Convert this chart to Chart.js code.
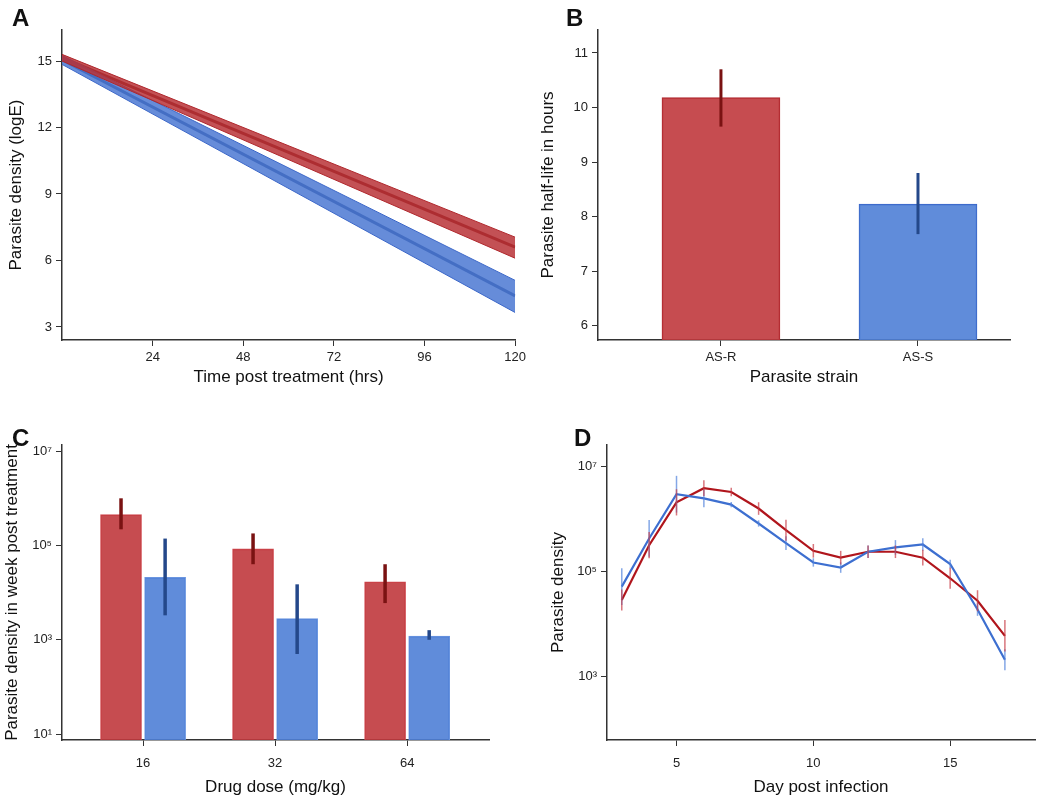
<!DOCTYPE html>
<html><head><meta charset="utf-8">
<script src="https://cdn.jsdelivr.net/npm/chart.js@4/dist/chart.umd.min.js"></script>
<style>
body{margin:0;background:#fff;width:1042px;height:800px;position:relative;overflow:hidden;font-family:"Liberation Sans",Arial,sans-serif}
.p{position:absolute}
.lab{position:absolute;font-weight:bold;font-size:24px;color:#111}
</style></head><body>
<div class="p" style="left:0;top:0;width:530px;height:390px"><canvas id="cA"></canvas></div>
<div class="p" style="left:530px;top:0;width:512px;height:390px"><canvas id="cB"></canvas></div>
<div class="p" style="left:0;top:390px;width:520px;height:410px"><canvas id="cC"></canvas></div>
<div class="p" style="left:520px;top:390px;width:522px;height:410px"><canvas id="cD"></canvas></div>
<div class="lab" style="left:12px;top:4px">A</div>
<div class="lab" style="left:566px;top:4px">B</div>
<div class="lab" style="left:12px;top:424px">C</div>
<div class="lab" style="left:574px;top:424px">D</div>
<script>
// ---- Panel A data
const timeHrs=[0,120];
const redMean=[15.15,6.6], redLo=[15.0,6.1], redHi=[15.3,7.05];
const blueMean=[15.05,4.4], blueLo=[14.85,3.65], blueHi=[15.25,5.1];
const ticksA_x=[24,48,72,96,120], ticksA_y=[3,6,9,12,15];
// ---- Panel B data
const strains=['AS-R','AS-S'];
const halfLife=[10.18,8.23];
const halfLifeLo=[9.65,7.68], halfLifeHi=[10.7,8.8];
// ---- Panel C data
const doses=['16','32','64'];
const densR=[4.5e5,8.5e4,1.7e4], densRLo=[2.2e5,4e4,6e3], densRHi=[1.0e6,1.8e5,4e4];
const densS=[2.1e4,2.8e3,1.2e3], densSLo=[3.3e3,5e2,1.0e3], densSHi=[1.4e5,1.5e4,1.6e3];
// ---- Panel D data
const days=[3,4,5,6,7,8,9,10,11,12,13,14,15,16,17];
const dR=[2.9e4,3.2e5,2.1e6,3.9e6,3.3e6,1.6e6,6.2e5,2.5e5,1.85e5,2.4e5,2.4e5,1.85e5,7.5e4,2.8e4,6e3];
const dRerr=[0.2,0.25,0.25,0.15,0.08,0.12,0.2,0.13,0.13,0.12,0.12,0.15,0.2,0.2,0.3];
const dB=[5.2e4,4.3e5,3e6,2.5e6,1.9e6,8.3e5,3.5e5,1.5e5,1.2e5,2.4e5,2.9e5,3.3e5,1.4e5,1.9e4,2.1e3];
const dBerr=[0.35,0.35,0.35,0.17,0.05,0.06,0.13,0.08,0.1,0.12,0.14,0.12,0.08,0.12,0.2];
const logTicks=[10,1e3,1e5,1e7];
const sup={1:'¹',3:'³',5:'⁵',7:'⁷'};

const REDF='rgba(192,57,61,0.9)', REDD='#7a1212';
const BLUEF='rgba(79,127,214,0.9)', BLUED='#24488a';
const FONT='"Liberation Sans", Arial, sans-serif';
Chart.defaults.font.family=FONT;
Chart.defaults.color='#222';
Chart.defaults.animation=false;

function axis(extra, title, w, isY, tpad, tickpad){
  return Object.assign({
    offset:false,
    grid:{display:true,drawOnChartArea:false,drawTicks:true,tickLength:6,color:'#333',offset:false},
    border:{display:true,color:'#333',width:1.5},
    ticks:{font:{size:13},color:'#222',padding:tickpad||4},
    title:{display:true,text:title,font:{size:17},color:'#111',padding:tpad||2},
    afterFit(s){ if(isY) s.width=w; else s.height=w; }
  },extra);
}
const errPlugin={id:'err',afterDatasetsDraw(ch){
  const ctx=ch.ctx;
  ch.data.datasets.forEach((ds,i)=>{
    if(!ds.errLo) return;
    const meta=ch.getDatasetMeta(i), ys=ch.scales.y;
    ctx.save();ctx.lineWidth=ds.errWidth;
    ds.data.forEach((d,j)=>{
      const x=meta.data[j].x;
      ctx.strokeStyle=Array.isArray(ds.errColor)?ds.errColor[j]:ds.errColor;
      ctx.beginPath();ctx.moveTo(x,ys.getPixelForValue(ds.errLo[j]));ctx.lineTo(x,ys.getPixelForValue(ds.errHi[j]));ctx.stroke();
    });
    ctx.restore();
  });
}};
const common={responsive:true,maintainAspectRatio:false,plugins:{legend:{display:false},tooltip:{enabled:false}}};
const supLabel=v=>'10'+sup[Math.round(Math.log10(v))];

// Panel A
new Chart(cA,{type:'line',data:{datasets:[
 {data:timeHrs.map((t,i)=>({x:t,y:redHi[i]})),borderColor:'#b0282d',borderWidth:1,pointRadius:0},
 {data:timeHrs.map((t,i)=>({x:t,y:redLo[i]})),borderColor:'#b0282d',borderWidth:1,pointRadius:0,fill:'-1',backgroundColor:'rgba(185,50,55,0.85)'},
 {data:timeHrs.map((t,i)=>({x:t,y:blueHi[i]})),borderColor:'#3a66c8',borderWidth:1,pointRadius:0},
 {data:timeHrs.map((t,i)=>({x:t,y:blueLo[i]})),borderColor:'#3a66c8',borderWidth:1,pointRadius:0,fill:'-1',backgroundColor:'rgba(75,120,210,0.85)'},
 {data:timeHrs.map((t,i)=>({x:t,y:redMean[i]})),borderColor:'#6e1010',borderWidth:3,pointRadius:0},
 {data:timeHrs.map((t,i)=>({x:t,y:blueMean[i]})),borderColor:'#1f3a72',borderWidth:3,pointRadius:0}
]},options:Object.assign({},common,{layout:{padding:{top:30,right:13}},scales:{
 x:axis({type:'linear',min:0,max:120,afterBuildTicks(s){s.ticks=ticksA_x.map(v=>({value:v}));}},'Time post treatment (hrs)',50,false),
 y:axis({type:'linear',min:2.41,max:16.4,afterBuildTicks(s){s.ticks=ticksA_y.map(v=>({value:v}));}},'Parasite density (logE)',62,true,6)
}})});

// Panel B
new Chart(cB,{type:'bar',data:{datasets:[
 {data:strains.map((s,i)=>({x:i+1,y:halfLife[i]})),backgroundColor:[REDF,BLUEF],borderColor:['#b02a30','#3a66c8'],borderWidth:1,barThickness:118,
  errLo:halfLifeLo,errHi:halfLifeHi,errColor:[REDD,BLUED],errWidth:3}
]},options:Object.assign({},common,{layout:{padding:{top:30,right:32}},scales:{
 x:axis({type:'linear',min:0.376,max:2.467,afterBuildTicks(s){s.ticks=[1,2].map(v=>({value:v}));},ticks:{font:{size:13},color:'#222',padding:4,callback:v=>strains[v-1]}},'Parasite strain',50,false),
 y:axis({type:'linear',min:5.74,max:11.42,afterBuildTicks(s){s.ticks=[6,7,8,9,10,11].map(v=>({value:v}));}},'Parasite half-life in hours',68,true,8)
}}),plugins:[errPlugin]});

// Panel C
const off=0.167;
new Chart(cC,{type:'bar',data:{datasets:[
 {data:doses.map((d,i)=>({x:i+1-off,y:densR[i]})),backgroundColor:REDF,borderColor:'#d04a50',borderWidth:1,barThickness:41,grouped:false,
  errLo:densRLo,errHi:densRHi,errColor:REDD,errWidth:3.5},
 {data:doses.map((d,i)=>({x:i+1+off,y:densS[i]})),backgroundColor:BLUEF,borderColor:'#6a95e0',borderWidth:1,barThickness:41,grouped:false,
  errLo:densSLo,errHi:densSHi,errColor:BLUED,errWidth:3.5}
]},options:Object.assign({},common,{layout:{padding:{top:55,right:31}},scales:{
 x:axis({type:'linear',min:0.386,max:3.62,afterBuildTicks(s){s.ticks=[1,2,3].map(v=>({value:v}));},ticks:{font:{size:13},color:'#222',padding:10,callback:v=>doses[v-1]}},'Drug dose (mg/kg)',60,false),
 y:axis({type:'logarithmic',min:7.5,max:1.35e7,afterBuildTicks(s){s.ticks=logTicks.map(v=>({value:v}));},ticks:{font:{size:13},color:'#222',padding:4,callback:supLabel}},'Parasite density in week post treatment',62,true)
}}),plugins:[errPlugin]});

// Panel D
new Chart(cD,{type:'line',data:{datasets:[
 {data:days.map((d,i)=>({x:d,y:dB[i]})),borderColor:'#3d6fd0',borderWidth:2.2,pointRadius:0,
  errLo:dB.map((v,i)=>v/Math.pow(10,dBerr[i])),errHi:dB.map((v,i)=>v*Math.pow(10,dBerr[i])),errColor:'rgba(80,130,220,0.7)',errWidth:1.5},
 {data:days.map((d,i)=>({x:d,y:dR[i]})),borderColor:'#b0151c',borderWidth:2.2,pointRadius:0,
  errLo:dR.map((v,i)=>v/Math.pow(10,dRerr[i])),errHi:dR.map((v,i)=>v*Math.pow(10,dRerr[i])),errColor:'rgba(200,60,70,0.7)',errWidth:1.5}
]},options:Object.assign({},common,{layout:{padding:{top:55,right:7}},scales:{
 x:axis({type:'linear',min:2.46,max:18.1,afterBuildTicks(s){s.ticks=[5,10,15].map(v=>({value:v}));}},'Day post infection',60,false,2,10),
 y:axis({type:'logarithmic',min:62,max:2.6e7,afterBuildTicks(s){s.ticks=[1e3,1e5,1e7].map(v=>({value:v}));},ticks:{font:{size:13},color:'#222',padding:4,callback:supLabel}},'Parasite density',87,true,28)
}}),plugins:[errPlugin]});
</script></body></html>
